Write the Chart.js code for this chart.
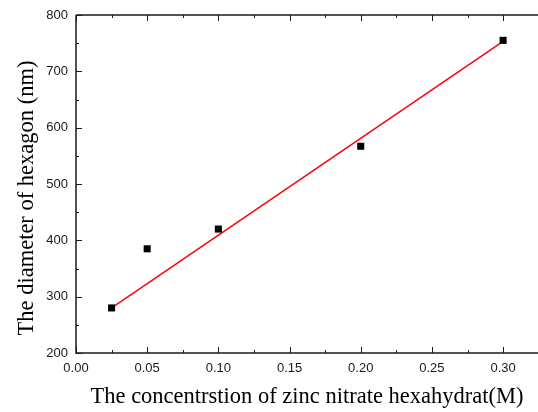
<!DOCTYPE html>
<html>
<head>
<meta charset="utf-8">
<script src="https://cdn.jsdelivr.net/npm/chart.js@4/dist/chart.umd.min.js"></script>
<style>
    html, body { margin: 0; padding: 0; background: #fff; }
    #wrap { width: 538px; height: 412px; position: relative; }
</style>
</head>
<body>
<div id="wrap"><canvas id="chart"></canvas></div>
<script>
// measured points
const concentration = [0.025, 0.05, 0.1, 0.2, 0.3];
const diameter = [280, 385, 420, 567, 755];

// red fitted line
const fitX = [0.025, 0.3];
const fitY = [280, 753];

const xTicks = [0, 0.05, 0.1, 0.15, 0.2, 0.25, 0.3];
const yTicks = [200, 300, 400, 500, 600, 700, 800];

const xTitle = 'The concentrstion of zinc nitrate hexahydrat(M)';
const yTitle = 'The diameter of hexagon (nm)';

const axisColor = '#1a1a1a';
const serif = '"Liberation Serif", "Times New Roman", serif';
const sans = '"Liberation Sans", Arial, sans-serif';

// origin-style frame: inward major/minor ticks, no right spine
const originAxes = {
    id: 'originAxes',
    afterDraw(chart) {
        const { ctx, chartArea: a, scales } = chart;
        const x = scales.x;
        const y = scales.y;
        const w = chart.width;
        ctx.save();
        ctx.strokeStyle = axisColor;
        ctx.lineWidth = 1.5;
        ctx.beginPath();
        ctx.moveTo(a.left, a.top);
        ctx.lineTo(a.left, a.bottom);
        ctx.lineTo(w, a.bottom);
        ctx.moveTo(a.left, a.top);
        ctx.lineTo(w, a.top);
        ctx.stroke();

        ctx.lineWidth = 1;
        ctx.beginPath();
        for (let v = 0; v <= 0.3251; v += 0.025) {
            const px = Math.round(x.getPixelForValue(v)) + 0.5;
            if (px > w) break;
            const len = Math.abs(v / 0.05 - Math.round(v / 0.05)) < 1e-6 ? 6 : 3;
            ctx.moveTo(px, a.bottom);
            ctx.lineTo(px, a.bottom - len);
            ctx.moveTo(px, a.top);
            ctx.lineTo(px, a.top + len);
        }
        for (let v = 200; v <= 800; v += 50) {
            const py = Math.round(y.getPixelForValue(v)) + 0.5;
            const len = v % 100 === 0 ? 6 : 3;
            ctx.moveTo(a.left, py);
            ctx.lineTo(a.left + len, py);
        }
        ctx.stroke();

        ctx.fillStyle = '#000';
        ctx.font = '22.5px ' + serif;
        ctx.textAlign = 'center';
        ctx.textBaseline = 'alphabetic';
        ctx.fillText(xTitle, 307, 403);

        ctx.translate(33, 198);
        ctx.rotate(-Math.PI / 2);
        ctx.fillText(yTitle, 0, 0);
        ctx.restore();
    },
};

new Chart(document.getElementById('chart'), {
    type: 'scatter',
    data: {
        datasets: [
            {
                label: 'fit',
                type: 'line',
                data: fitX.map((v, i) => ({ x: v, y: fitY[i] })),
                borderColor: '#ff0000',
                borderWidth: 1.5,
                pointRadius: 0,
                fill: false,
                order: 2,
            },
            {
                label: 'diameter',
                data: concentration.map((v, i) => ({ x: v, y: diameter[i] })),
                pointStyle: 'rect',
                pointRadius: 5,
                backgroundColor: '#000',
                borderColor: '#000',
                borderWidth: 0,
                order: 1,
            },
        ],
    },
    options: {
        responsive: true,
        maintainAspectRatio: false,
        animation: false,
        layout: { padding: { top: 15, right: 0, left: 0, bottom: 0 } },
        plugins: {
            legend: { display: false },
            tooltip: { enabled: false },
        },
        scales: {
            x: {
                type: 'linear',
                min: 0,
                max: 0.321,
                grid: { display: false },
                border: { display: false },
                afterFit: (s) => { s.height = 59; },
                afterBuildTicks: (s) => { s.ticks = xTicks.map((v) => ({ value: v })); },
                ticks: {
                    padding: 0,
                    color: axisColor,
                    font: { family: sans, size: 13 },
                    maxRotation: 0,
                    callback: (v) => Number(v).toFixed(2),
                },
            },
            y: {
                min: 200,
                max: 800,
                grid: { display: false },
                border: { display: false },
                afterFit: (s) => { s.width = 76; },
                afterBuildTicks: (s) => { s.ticks = yTicks.map((v) => ({ value: v })); },
                ticks: {
                    padding: 0,
                    color: axisColor,
                    font: { family: sans, size: 13 },
                },
            },
        },
    },
    plugins: [originAxes],
});
</script>
</body>
</html>
